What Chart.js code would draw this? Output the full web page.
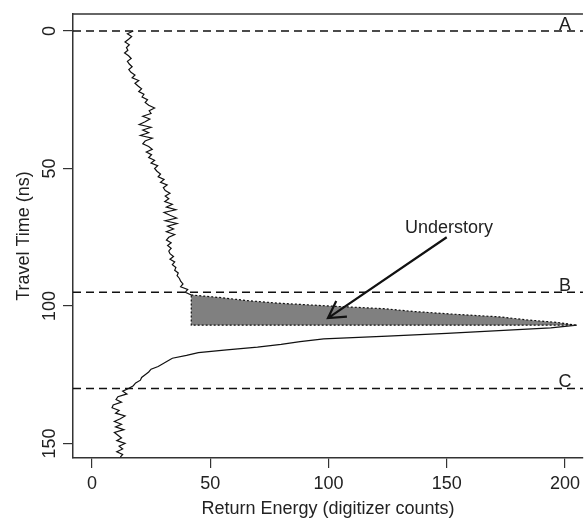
<!doctype html>
<html lang="en">
<head>
<meta charset="utf-8">
<title>Return waveform</title>
<script src="https://cdn.jsdelivr.net/npm/chart.js@4.4.1/dist/chart.umd.min.js"></script>
<style>
  html, body { margin: 0; padding: 0; background: #fff; overflow: hidden; }
  #wrap { width: 585px; height: 518px; }
</style>
</head>
<body>
<div id="wrap"><canvas id="chart"></canvas></div>
<script>
// one waveform sample per ns
const travelTime = [
  0, 1, 2, 3, 4, 5, 6, 7, 8, 9, 10, 11, 12, 13, 14, 15, 16, 17, 18, 19,
  20, 21, 22, 23, 24, 25, 26, 27, 28, 29, 30, 31, 32, 33, 34, 35, 36, 37, 38, 39,
  40, 41, 42, 43, 44, 45, 46, 47, 48, 49, 50, 51, 52, 53, 54, 55, 56, 57, 58, 59,
  60, 61, 62, 63, 64, 65, 66, 67, 68, 69, 70, 71, 72, 73, 74, 75, 76, 77, 78, 79,
  80, 81, 82, 83, 84, 85, 86, 87, 88, 89, 90, 91, 92, 93, 94, 95, 96, 97, 98, 99,
  100, 101, 102, 103, 104, 105, 106, 107, 108, 109, 110, 111, 112, 113, 114, 115, 116, 117, 118, 119,
  120, 121, 122, 123, 124, 125, 126, 127, 128, 129, 130, 131, 132, 133, 134, 135, 136, 137, 138, 139,
  140, 141, 142, 143, 144, 145, 146, 147, 148, 149, 150, 151, 152, 153, 154, 155
];
const returnEnergy = [
  17.5, 15.0, 16.8, 15.5, 14.0, 15.8, 14.6, 15.2, 13.8, 15.5,
  16.6, 15.0, 15.8, 17.0, 15.6, 16.5, 18.2, 17.0, 19.8, 18.2,
  19.5, 21.0, 19.8, 22.0, 21.2, 23.5, 22.5, 24.0, 26.5, 24.2,
  25.0, 21.5, 24.5, 22.5, 20.0, 25.0, 21.5, 24.0, 20.5, 25.5,
  22.5, 21.5, 24.0, 25.5, 23.0, 25.2, 24.0, 26.5, 25.0, 27.8,
  26.5, 27.5, 29.0, 28.0, 30.5, 29.0, 31.8, 30.2, 31.0, 33.0,
  31.0, 32.5, 30.8, 34.0, 31.5, 35.5, 30.5, 33.0, 35.8, 31.0,
  36.0, 32.0, 34.5, 31.5, 35.0, 32.5, 31.5, 33.5, 32.0, 33.5,
  32.5, 33.0, 34.5, 33.0, 35.0, 34.0, 35.5, 35.0, 36.5, 36.0,
  37.0, 37.5, 38.5, 37.5, 40.5, 39.5, 42.0, 55.0, 65.0, 79.0,
  100, 123.5, 136, 153, 173, 183, 197, 205, 194, 172,
  150, 125, 98, 88, 80, 70, 57, 45, 40, 34,
  32, 30, 28, 25, 24, 22.5, 21, 20.5, 18.5, 17.5,
  15.5, 13.0, 14.8, 11.0, 10.2, 12.5, 9.0, 8.5, 11.5, 10.0,
  14.0, 12.0, 9.5, 12.5, 10.0, 13.5, 9.5, 11.0, 12.5, 10.5,
  14.0, 11.5, 13.0, 10.5, 13.0, 12.0
];

// understory part of the return (ns)
const understoryStart = 96;
const understoryEnd = 107;

// dashed reference levels
const levelNames = ['A', 'B', 'C'];
const levelTimes = [0, 95, 130];

const xTicks = [0, 50, 100, 150, 200];
const yTicks = [0, 50, 100, 150];

// annotation, in data units
const noteText = 'Understory';
const notePos = { x: 151, y: 71.6 };
const arrowTail = { x: 150, y: 75 };
const arrowTip = { x: 99.8, y: 104.4 };

const xMin = -8, xMax = 207.6;
const yMin = -6.2, yMax = 155.3;

const ink = '#111';
const axisInk = '#333';
const fontFamily = '"Liberation Sans", Arial, Helvetica, sans-serif';

Chart.defaults.font.family = fontFamily;
Chart.defaults.font.size = 18;
Chart.defaults.color = '#222';

const wave = travelTime.map((t, i) => ({ x: returnEnergy[i], y: t }));

// shaded polygon: waveform between start and end, closed along the bottom and left
const shade = wave.filter(p => p.y >= understoryStart && p.y <= understoryEnd);
const shadeLeft = shade[0].x;
shade.push({ x: shadeLeft, y: understoryEnd });
shade.push({ x: shadeLeft, y: understoryStart });

const levelSets = levelTimes.map(t => ({
    data: [{ x: xMin, y: t }, { x: xMax, y: t }],
    borderColor: ink,
    borderWidth: 1.4,
    borderDash: [8, 5],
    pointRadius: 0,
    showLine: true,
    fill: false
}));

const hidden = ctx => ctx.p0.parsed.y >= understoryStart && ctx.p1.parsed.y <= understoryEnd;

const annotate = {
    id: 'annotate',
    afterDatasetsDraw(chart) {
        const c = chart.ctx;
        const xs = chart.scales.x, ys = chart.scales.y;
        const area = chart.chartArea;
        c.save();
        // top of the box
        c.strokeStyle = axisInk;
        c.lineWidth = 1.5;
        c.beginPath();
        c.moveTo(area.left, area.top);
        c.lineTo(area.right, area.top);
        c.stroke();

        c.fillStyle = '#222';
        c.font = '18px ' + fontFamily;
        c.textAlign = 'center';
        c.textBaseline = 'alphabetic';
        levelNames.forEach((n, i) => {
            c.fillText(n, xs.getPixelForValue(200), ys.getPixelForValue(levelTimes[i]) - 1);
        });

        c.textBaseline = 'middle';
        c.fillText(noteText, xs.getPixelForValue(notePos.x), ys.getPixelForValue(notePos.y));

        // arrow
        const x0 = xs.getPixelForValue(arrowTail.x), y0 = ys.getPixelForValue(arrowTail.y);
        const x1 = xs.getPixelForValue(arrowTip.x), y1 = ys.getPixelForValue(arrowTip.y);
        const ang = Math.atan2(y0 - y1, x0 - x1);
        const head = 19, spread = Math.PI / 6;
        c.strokeStyle = ink;
        c.lineWidth = 2.2;
        c.beginPath();
        c.moveTo(x0, y0);
        c.lineTo(x1, y1);
        c.moveTo(x1 + head * Math.cos(ang - spread), y1 + head * Math.sin(ang - spread));
        c.lineTo(x1, y1);
        c.lineTo(x1 + head * Math.cos(ang + spread), y1 + head * Math.sin(ang + spread));
        c.stroke();
        c.restore();
    }
};

new Chart(document.getElementById('chart'), {
    type: 'scatter',
    data: {
        datasets: [
            {
                data: shade,
                showLine: true,
                fill: 'shape',
                backgroundColor: '#808080',
                borderColor: ink,
                borderWidth: 1.2,
                borderDash: [2, 2],
                pointRadius: 0
            },
            {
                data: wave,
                showLine: true,
                fill: false,
                borderColor: ink,
                borderWidth: 1.2,
                pointRadius: 0,
                segment: {
                    borderColor: ctx => hidden(ctx) ? 'rgba(0,0,0,0)' : ink
                }
            },
            ...levelSets
        ]
    },
    options: {
        responsive: true,
        maintainAspectRatio: false,
        animation: false,
        layout: { padding: { top: 14, right: 0, left: 0, bottom: 0 } },
        plugins: {
            legend: { display: false },
            tooltip: { enabled: false }
        },
        scales: {
            x: {
                type: 'linear',
                position: 'bottom',
                min: xMin,
                max: xMax,
                afterBuildTicks: s => { s.ticks = xTicks.map(v => ({ value: v })); },
                afterFit: s => { s.height = 60; },
                grid: { drawOnChartArea: false, tickLength: 10, color: axisInk, lineWidth: 1.2 },
                border: { color: axisInk, width: 1.5 },
                ticks: { padding: 5, color: '#222', maxRotation: 0 },
                title: {
                    display: true,
                    text: 'Return Energy (digitizer counts)',
                    color: '#222',
                    padding: { top: 0, bottom: -2 }
                }
            },
            y: {
                type: 'linear',
                reverse: true,
                min: yMin,
                max: yMax,
                afterBuildTicks: s => { s.ticks = yTicks.map(v => ({ value: v })); },
                afterFit: s => { s.width = 73; },
                grid: { drawOnChartArea: false, tickLength: 10, color: axisInk, lineWidth: 1.2 },
                border: { color: axisInk, width: 1.5 },
                ticks: { padding: -2, color: '#222', minRotation: 90, maxRotation: 90, crossAlign: 'center' },
                title: {
                    display: true,
                    text: 'Travel Time (ns)',
                    color: '#222',
                    padding: { top: 13, bottom: 0 }
                }
            }
        }
    },
    plugins: [annotate]
});
</script>
</body>
</html>
